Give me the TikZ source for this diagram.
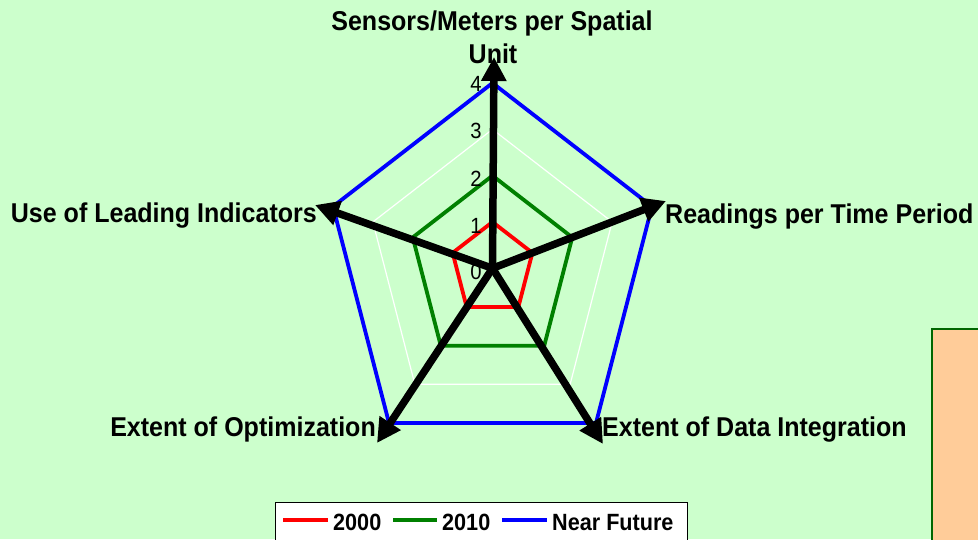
\documentclass[tikz,border=0pt]{standalone}
\usepackage{fontspec}
\setmainfont{Liberation Sans}
\newfontfamily\labfont[FakeStretch=0.92]{Liberation Sans}
\usetikzlibrary{arrows.meta,calc}

\definecolor{chartbg}{HTML}{CCFFCC}
\definecolor{peach}{HTML}{FFCC99}
\definecolor{boxedge}{HTML}{006600}
\definecolor{s2000}{HTML}{FF0000}
\definecolor{s2010}{HTML}{008000}
\definecolor{sfuture}{HTML}{0000FF}

\tikzset{
  gridline/.style={draw=white, line width=1.2pt},
  series/.style={line width=3.8pt, line join=miter},
  bigarrow/.style={draw=black, line width=7.5pt,
    -{Triangle[width=24pt,length=24pt]}},
  axislabel/.style={font={\labfont\bfseries\fontsize{27.2}{33}\selectfont},
    inner sep=0pt, text=black},
  ticklabel/.style={font={\labfont\fontsize{22}{24}\selectfont},
    inner sep=0pt, text=black},
  legendtext/.style={font={\labfont\bfseries\fontsize{23.5}{26}\selectfont},
    inner sep=0pt, anchor=base west},
  legendline/.style={line width=4pt},
}

\begin{document}
\begin{tikzpicture}[x=1pt,y=-1pt]
  % background
  \fill[chartbg] (0,0) rectangle (978,539);
  \useasboundingbox (0,0) rectangle (978,539);

  % centre and the five spokes at value 4
  \coordinate (O)  at (492.5,268.3);
  \coordinate (A1) at (492.5,83);
  \coordinate (A2) at (652,206.5);
  \coordinate (A3) at (596,423);
  \coordinate (A4) at (389,423);
  \coordinate (A5) at (333,206.5);

  % arrow tips
  \coordinate (T1) at (494,57);
  \coordinate (T2) at (666,201);
  \coordinate (T3) at (603,444);
  \coordinate (T4) at (377,443);
  \coordinate (T5) at (315,205);

  % grid pentagons
  \foreach \k in {1,2,3,4}{
    \draw[gridline] ($(O)!\k/4!(A1)$) -- ($(O)!\k/4!(A2)$) -- ($(O)!\k/4!(A3)$)
      -- ($(O)!\k/4!(A4)$) -- ($(O)!\k/4!(A5)$) -- cycle;
  }

  % data series
  \draw[series, sfuture] (A1) -- (A2) -- (A3) -- (A4) -- (A5) -- cycle;
  \draw[series, s2010] ($(O)!0.5!(A1)$) -- ($(O)!0.5!(A2)$) -- ($(O)!0.5!(A3)$)
      -- ($(O)!0.5!(A4)$) -- ($(O)!0.5!(A5)$) -- cycle;
  \draw[series, s2000] ($(O)!0.25!(A1)$) -- ($(O)!0.25!(A2)$) -- ($(O)!0.25!(A3)$)
      -- ($(O)!0.25!(A4)$) -- ($(O)!0.25!(A5)$) -- cycle;

  % scale labels
  \node[ticklabel] (t0) at (476,272) {0};
  \node[ticklabel] (t1) at (476,226) {1};
  \node[ticklabel] (t2) at (476,179) {2};
  \node[ticklabel] (t3) at (476,131) {3};
  \node[ticklabel] (t4) at (476,84) {4};

  % axis labels
  \node[axislabel, anchor=base] (l1a) at (492,30) {Sensors/Meters per Spatial};
  \node[axislabel, anchor=base] (l1b) at (493,63) {Unit};
  \node[axislabel, anchor=base west] (l2) at (665,223) {Readings per Time Period};
  \node[axislabel, anchor=base west] (l3) at (602,436.5) {Extent of Data Integration};
  \node[axislabel, anchor=base east] (l4) at (376,436.5) {Extent of Optimization};
  \node[axislabel, anchor=base east] (l5) at (317,222) {Use of Leading Indicators};

  % black arrows along the spokes
  \foreach \t in {T1,T2,T3,T4,T5}{
    \draw[bigarrow] (O) -- (\t);
  }

  % legend
  \draw[black, line width=1pt, fill=white] (275,502) rectangle (687,560);
  \coordinate (r0) at (283,520); \coordinate (r1) at (328,520);
  \coordinate (g0) at (393,520); \coordinate (g1) at (437,520);
  \coordinate (b0) at (502,520); \coordinate (b1) at (547,520);
  \draw[legendline, s2000] (r0) -- (r1);
  \draw[legendline, s2010] (g0) -- (g1);
  \draw[legendline, sfuture] (b0) -- (b1);
  \node[legendtext] (k1) at (333,530) {2000};
  \node[legendtext] (k2) at (442,530) {2010};
  \node[legendtext] (k3) at (552,530) {Near Future};

  % side panel
  \draw[draw=boxedge, line width=2.5pt, fill=peach] (932,329) rectangle (995,560);
\end{tikzpicture}
\end{document}
